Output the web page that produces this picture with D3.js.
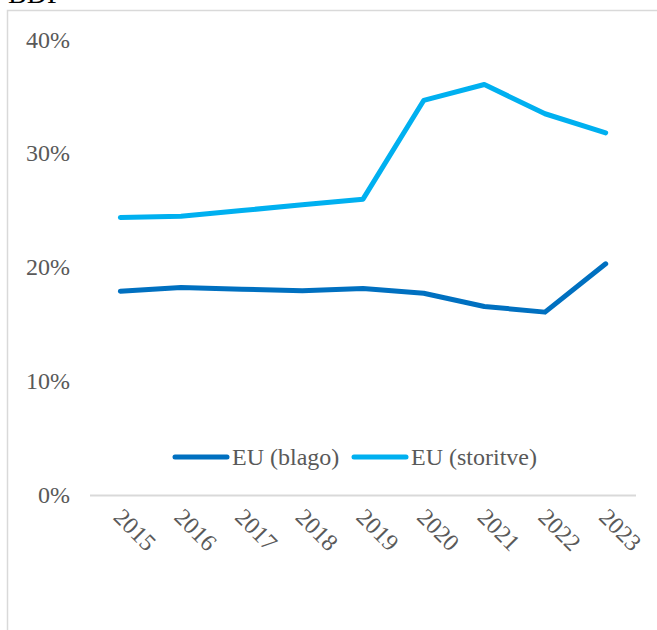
<!DOCTYPE html>
<html>
<head>
<meta charset="utf-8">
<script src="https://cdn.jsdelivr.net/npm/d3@7/dist/d3.min.js"></script>
<style>
  html, body { margin: 0; padding: 0; background: #fff; }
  svg { display: block; }
</style>
</head>
<body>
<svg id="chart" width="657" height="630"></svg>
<script>
const years = ["2015","2016","2017","2018","2019","2020","2021","2022","2023"];
const blago = [17.96, 18.29, 18.14, 18.0, 18.2, 17.78, 16.62, 16.12, 20.37];
const storitve = [24.44, 24.55, 25.05, 25.56, 26.05, 34.73, 36.13, 33.56, 31.88];
const seriesNames = ["EU (blago)", "EU (storitve)"];
const seriesColors = ["#0070C0", "#00B0F0"];
const yTicks = [0, 10, 20, 30, 40];
const title = "BDP";

const svg = d3.select("#chart");
const font = "'Liberation Serif', 'Times New Roman', serif";
const textColor = "#595959";

// outer frame
svg.append("rect")
  .attr("x", 7.5).attr("y", 10.5)
  .attr("width", 700).attr("height", 700)
  .attr("fill", "none").attr("stroke", "#d9d9d9").attr("stroke-width", 1.5);

// title (partly cut off at top, as in the reference)
svg.append("text")
  .attr("x", 8).attr("y", 3)
  .attr("font-family", font).attr("font-size", 28)
  .attr("fill", "#000")
  .text(title);

const x = d3.scaleBand().domain(years).range([90, 636]);
const y = d3.scaleLinear().domain([0, 40]).range([495.5, 40.5]);

// baseline
svg.append("line")
  .attr("x1", x.range()[0]).attr("x2", x.range()[1])
  .attr("y1", y(0)).attr("y2", y(0))
  .attr("stroke", "#d9d9d9").attr("stroke-width", 2);

// y axis labels
const yAxis = d3.axisLeft(y).tickValues(yTicks).tickFormat(d => d + "%").tickSize(0).tickPadding(0);
const yg = svg.append("g").attr("transform", "translate(70,0)").call(yAxis);
yg.select(".domain").remove();
yg.selectAll("text")
  .attr("font-family", font).attr("font-size", 24).attr("fill", textColor)
  .attr("dy", "0.28em");

// x axis labels rotated
const xAxis = d3.axisBottom(x).tickSize(0).tickPadding(0);
const xg = svg.append("g").attr("transform", `translate(0,${y(0)})`).call(xAxis);
xg.select(".domain").remove();
xg.selectAll("text")
  .attr("font-family", font).attr("font-size", 24).attr("fill", textColor)
  .attr("text-anchor", "start")
  .attr("dy", "0")
  .attr("y", 0)
  .attr("transform", "translate(-8,23) rotate(45)");

// lines
const line = d3.line().x((d, i) => x(years[i]) + x.bandwidth() / 2).y(d => y(d));
[blago, storitve].forEach((vals, k) => {
  svg.append("path")
    .datum(vals)
    .attr("d", line)
    .attr("fill", "none")
    .attr("stroke", seriesColors[k])
    .attr("stroke-width", 5)
    .attr("stroke-linejoin", "round")
    .attr("stroke-linecap", "round");
});

// legend
const legendItems = [
  { x1: 175, x2: 227, tx: 232 },
  { x1: 354, x2: 406, tx: 411 }
];
legendItems.forEach((it, k) => {
  const g = svg.append("g");
  g.append("line")
    .attr("x1", it.x1).attr("x2", it.x2).attr("y1", 457).attr("y2", 457)
    .attr("stroke", seriesColors[k]).attr("stroke-width", 5).attr("stroke-linecap", "round");
  g.append("text")
    .attr("x", it.tx).attr("y", 457).attr("dy", "0.33em")
    .attr("font-family", font).attr("font-size", 24).attr("fill", textColor)
    .text(seriesNames[k]);
});
</script>
</body>
</html>
